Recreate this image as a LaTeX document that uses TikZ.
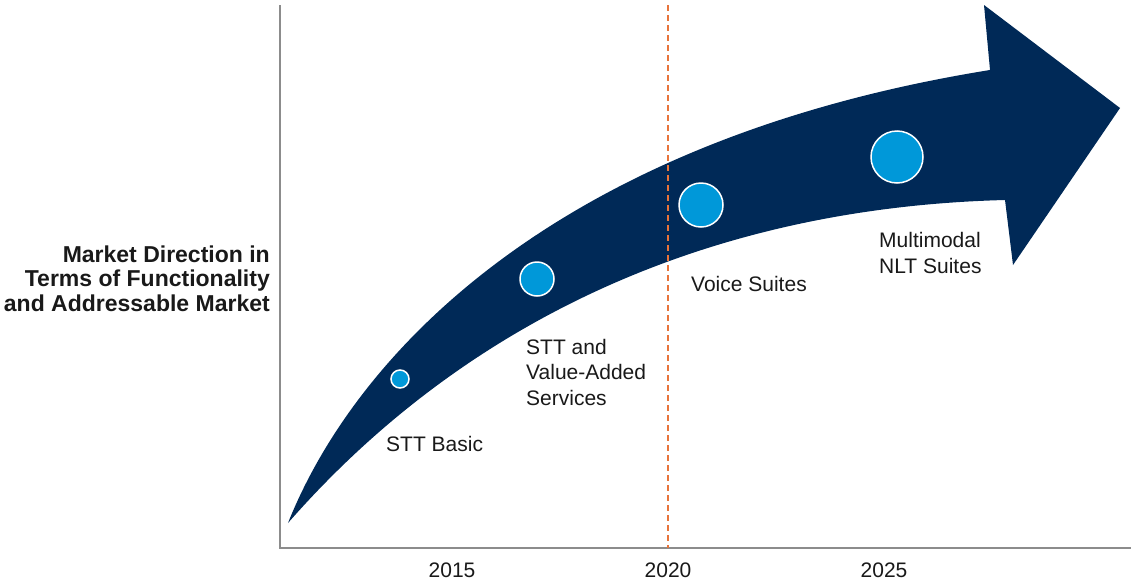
\documentclass[tikz,border=0pt]{standalone}
\usepackage{fontspec}
\setmainfont{Liberation Sans}
\begin{document}
\definecolor{navy}{RGB}{0,41,87}
\definecolor{dotblue}{RGB}{0,152,217}
\definecolor{axisgray}{RGB}{140,140,140}
\definecolor{markorange}{RGB}{232,116,59}
\definecolor{ink}{RGB}{25,25,25}
\begin{tikzpicture}[x=1pt,y=-1pt,
  lbl/.style={anchor=base west, inner sep=0pt, align=left, text=ink,
    font=\fontsize{21}{25.5}\selectfont},
  yearlbl/.style={anchor=base, inner sep=0pt, text=ink,
    font=\fontsize{21}{25.5}\selectfont},
  ylbl/.style={anchor=base east, inner sep=0pt, align=right, text=ink,
    font=\fontsize{23}{24.5}\selectfont\bfseries},
  dot/.style={circle, fill=dotblue, draw=white, line width=1.5pt, inner sep=0pt},
  axisline/.style={draw=axisgray, line width=1.3pt},
  marker/.style={draw=markorange, line width=1.3pt, dash pattern=on 6pt off 4pt}]
\useasboundingbox (0,0) rectangle (1131,581);

% axes
\coordinate (ytop) at (280,5);
\coordinate (origin) at (280,548);
\coordinate (xend) at (1131,548);
\draw[axisline] (ytop) -- (origin) -- (xend);

% growth arrow
\fill[navy] (288,523) .. controls (355,355) and (555,140) .. (990,70)
  -- (984,5) -- (1120,108) -- (1013,265) -- (1005,200)
  .. controls (620,210) and (400,395) .. (288,523) -- cycle;

% 2020 marker
\coordinate (mtop) at (668,5);
\coordinate (mbot) at (668,548);
\draw[marker] (mtop) -- (mbot);

% stages
\node[dot, minimum size=18pt] (d1) at (400,379) {};
\node[dot, minimum size=34pt] (d2) at (537,279) {};
\node[dot, minimum size=44pt] (d3) at (701,205) {};
\node[dot, minimum size=52pt] (d4) at (897,157) {};

% multi-line labels are placed by the baseline of their last line
\node[lbl] (l1) at (386,451) {STT Basic};
\node[lbl] (l2) at (526,405) {STT and\\Value-Added\\Services};
\node[lbl] (l3) at (691,291) {Voice Suites};
\node[lbl] (l4) at (879,273) {Multimodal\\NLT Suites};

% years
\node[yearlbl] (y1) at (452,577) {2015};
\node[yearlbl] (y2) at (668,577) {2020};
\node[yearlbl] (y3) at (884,577) {2025};

% axis title
\node[ylbl] (ytitle) at (270,311) {Market Direction in\\Terms of Functionality\\and Addressable Market};
\end{tikzpicture}
\end{document}
